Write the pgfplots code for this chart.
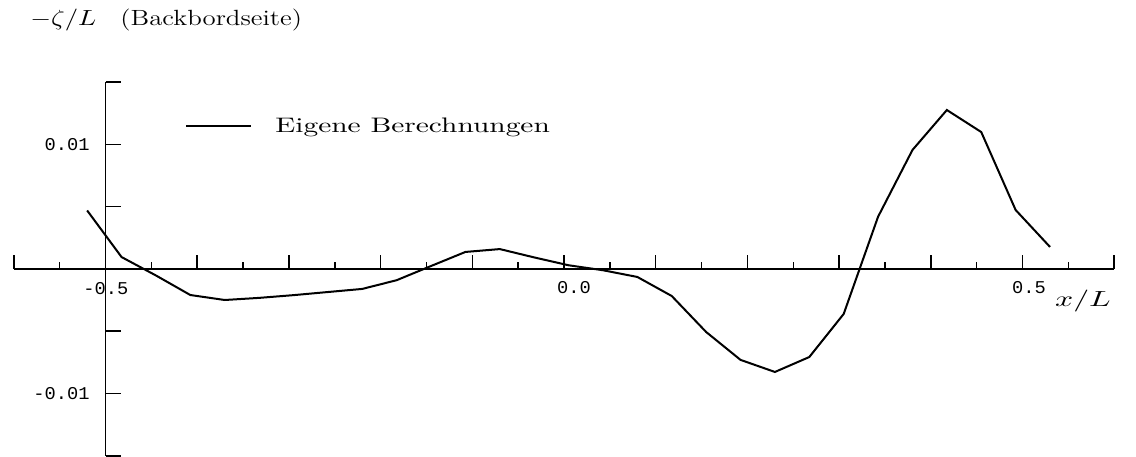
\documentclass[border=0pt]{standalone}
\usepackage{fontspec}
\usepackage{pgfplots}
\usepackage{pgfplotstable}
\pgfplotsset{compat=1.18}
\newfontfamily\plotter{Liberation Mono}

% wave elevation along the hull, port side
\pgfplotstableread{
x y
-0.52 0.0047
-0.4825 0.00096
-0.445 -0.00052
-0.4075 -0.00209
-0.37 -0.00249
-0.3325 -0.00232
-0.295 -0.0021
-0.2575 -0.00185
-0.22 -0.0016
-0.1825 -0.0009
-0.145 0.00024
-0.1075 0.00137
-0.07 0.0016
-0.0325 0.00093
0.005 0.0003
0.0425 -0.0001
0.08 -0.00064
0.1175 -0.00217
0.155 -0.00506
0.1925 -0.0073
0.23 -0.00827
0.2675 -0.00707
0.305 -0.00361
0.3425 0.0042
0.38 0.00956
0.4175 0.01277
0.455 0.0110
0.4925 0.00474
0.53 0.00177
}\datatable

\newcommand{\ticklab}[1]{{\plotter\fontsize{9pt}{9pt}\selectfont\scalebox{1.04}[1]{#1}}}
\newcommand{\wide}[2][1.4]{\scalebox{#1}[1]{#2}}

\begin{document}
\begin{tikzpicture}
\begin{axis}[
  scale only axis,
  width=550.2pt, height=186.75pt,
  xmin=-0.6, xmax=0.6, ymin=-0.015, ymax=0.015,
  hide axis, clip=false,
  legend image code/.code={
    \draw[#1] (0pt,0pt) -- (32.5pt,0pt);
    \path (0pt,-7pt) (44pt,0pt);
  },
  legend cell align=left,
  legend style={at={(axis cs:-0.4133,0.0112)}, anchor=west,
    draw=none, fill=none, inner sep=0pt, nodes={inner sep=0pt}},
]
\addplot[black, line width=1pt] table {\datatable};
\addlegendentry{\fontsize{10.5pt}{11pt}\selectfont\wide{Eigene Berechnungen}}

% axis lines
\draw[line width=0.75pt] (axis cs:-0.6,0) -- (axis cs:0.6,0);
\draw[line width=0.75pt] (axis cs:-0.5,-0.015) -- (axis cs:-0.5,0.015);

% x ticks, pointing up
\pgfplotsinvokeforeach{-0.6,-0.4,-0.3,-0.2,-0.1,0,0.1,0.2,0.3,0.4,0.5,0.6}{
  \draw[line width=0.75pt] (axis cs:#1,0) -- ++(0pt,7pt);
}
\pgfplotsinvokeforeach{-0.55,-0.45,-0.35,-0.25,-0.15,-0.05,0.05,0.15,0.25,0.35,0.45,0.55}{
  \draw[line width=0.75pt] (axis cs:#1,0) -- ++(0pt,3.5pt);
}
% y ticks, pointing right
\pgfplotsinvokeforeach{-0.015,-0.01,-0.005,0.005,0.01,0.015}{
  \draw[line width=0.75pt] (axis cs:-0.5,#1) -- ++(7.5pt,0pt);
}

% tick labels
\node[anchor=east, inner sep=0pt] at (axis cs:-0.5169,0.01) {\ticklab{0.01}};
\node[anchor=east, inner sep=0pt] at (axis cs:-0.5169,-0.01) {\ticklab{-0.01}};
\node[inner sep=0pt] at (axis cs:-0.4995,-0.00157) {\ticklab{-0.5}};
\node[inner sep=0pt] at (axis cs:0.0109,-0.00153) {\ticklab{0.0}};
\node[inner sep=0pt] at (axis cs:0.5071,-0.00153) {\ticklab{0.5}};

% axis labels
\node[inner sep=0pt] at (axis cs:0.566,-0.00257) {\fontsize{10.5pt}{11pt}\selectfont\wide[1.45]{$x/L$}};
\node[anchor=west, inner sep=0pt] at (axis cs:-0.5823,0.0200)
  {\fontsize{11pt}{12pt}\selectfont\wide[1.22]{$-\zeta/L$}};
\node[anchor=west, inner sep=0pt] at (axis cs:-0.4841,0.0200)
  {\fontsize{11pt}{12pt}\selectfont\wide[1.22]{(Backbordseite)}};

\coordinate (bbsw) at (axis cs:-0.61505,-0.0151);
\coordinate (bbne) at (axis cs:0.62377,0.021606);
\end{axis}
\pgfresetboundingbox
\path[use as bounding box] (bbsw) rectangle (bbne);
\end{tikzpicture}
\end{document}
